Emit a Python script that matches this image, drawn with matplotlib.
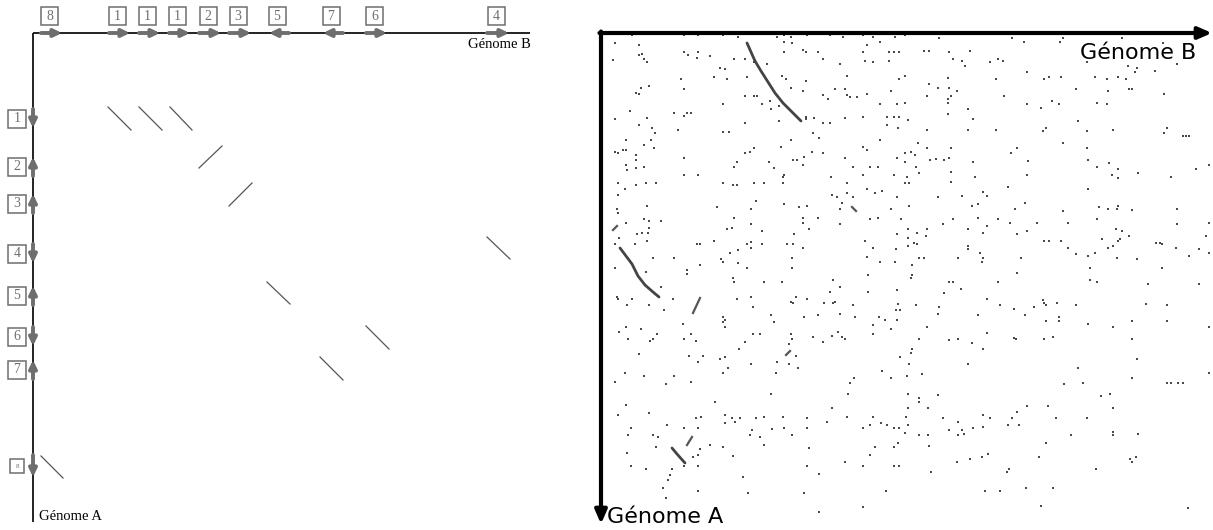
import numpy as np
import matplotlib.pyplot as plt
from matplotlib.patches import Rectangle

# ---- left: schematic of synteny blocks ----
# blocks along genome B (top axis)
b_labels = ['8', '1', '1', '1', '2', '3', '5', '7', '6', '4']
b_start = [8, 76, 106, 136, 166, 196, 236, 290, 333, 454]
b_end = [29, 97, 127, 157, 188, 218, 256, 310, 354, 476]
b_strand = [1, 1, 1, 1, 1, 1, -1, -1, 1, 1]

# blocks along genome A (left axis)
a_labels = ['1', '2', '3', '4', '5', '6', '7', '8']
a_start = [76, 124, 161, 211, 253, 294, 327, 422]
a_end = [95, 143, 180, 230, 272, 313, 346, 444]
a_strand = [1, -1, -1, 1, -1, 1, -1, 1]

# matches drawn in the schematic dot plot
match_b0 = [75, 106, 137, 166, 196, 454, 234, 333, 287, 8]
match_b1 = [98, 129, 159, 189, 219, 477, 257, 356, 310, 30]
match_a0 = [74, 74, 74, 135, 173, 204, 249, 293, 324, 423]
match_a1 = [97, 97, 97, 113, 150, 226, 271, 316, 347, 445]

# ---- right: real dot plot ----
# long diagonal runs
run1_b = [146, 150, 154, 160, 167, 174, 182, 190, 196, 200]
run1_a = [10, 19, 28, 38, 49, 60, 70, 78, 84, 88]
run2_b = [19, 25, 31, 37, 44, 52, 58]
run2_a = [215, 223, 231, 243, 252, 259, 264]
run3_b = [71, 76, 84]
run3_a = [415, 421, 430]
# short runs (b0, a0, b1, a1)
short_runs = [(12, 197, 16, 193), (92, 280, 99, 265), (185, 322, 189, 318),
              (251, 174, 255, 178), (86, 412, 91, 404)]

# isolated hits (position on B, position on A)
hits = [
    (31, 2), (83, 2), (97, 2), (122, 2), (137, 4), (176, 4), (183, 2), (190, 4), (206, 2), (229, 2),
    (242, 4), (262, 2), (272, 4), (294, 4), (304, 2), (14, 10), (38, 12), (183, 9), (191, 10), (266, 12),
    (279, 9), (12, 27), (41, 21), (38, 22), (43, 26), (46, 29), (83, 19), (87, 22), (96, 25), (97, 19),
    (109, 23), (133, 26), (144, 26), (153, 29), (166, 31), (183, 19), (202, 17), (205, 19), (217, 19),
    (222, 26), (239, 31), (262, 19), (264, 28), (272, 29), (288, 19), (293, 19), (298, 19), (288, 28),
    (119, 35), (124, 36), (113, 44), (126, 46), (146, 44), (35, 60), (38, 61), (40, 55), (48, 53),
    (80, 46), (83, 56), (185, 46), (181, 43), (190, 55), (202, 58), (205, 48), (222, 62), (227, 66),
    (234, 56), (244, 56), (246, 62), (249, 64), (256, 64), (266, 61), (246, 43), (298, 46), (304, 43),
    (290, 58), (279, 71), (296, 71), (304, 70), (29, 78), (14, 86), (38, 92), (46, 85), (51, 95),
    (54, 100), (77, 97), (73, 80), (83, 83), (86, 80), (90, 80), (122, 71), (122, 99), (128, 99),
    (144, 63), (153, 63), (156, 63), (161, 71), (169, 68), (170, 76), (178, 73), (178, 88), (144, 90),
    (205, 84), (205, 86), (213, 85), (222, 90), (229, 90), (244, 85), (262, 84), (286, 84), (293, 84),
    (298, 84), (286, 92), (297, 95), (307, 87), (25, 107), (14, 119), (17, 120), (22, 117), (25, 117),
    (35, 122), (35, 127), (35, 135), (25, 132), (26, 137), (43, 112), (43, 134), (50, 107), (53, 115),
    (83, 125), (83, 142), (97, 142), (133, 134), (136, 129), (144, 120), (149, 119), (153, 115),
    (168, 129), (173, 135), (180, 114), (183, 142), (190, 107), (192, 127), (196, 127), (202, 132),
    (203, 124), (212, 100), (218, 105), (211, 119), (222, 120), (230, 144), (244, 125), (252, 134),
    (262, 142), (262, 114), (266, 117), (269, 134), (277, 134), (279, 107), (293, 142), (296, 125),
    (304, 129), (304, 120), (17, 150), (24, 156), (35, 152), (45, 150), (55, 150), (122, 150),
    (132, 152), (136, 152), (153, 150), (163, 150), (182, 150), (182, 144), (231, 162), (236, 164),
    (246, 150), (246, 160), (252, 164), (266, 156), (274, 160), (281, 158), (296, 164), (304, 150),
    (17, 162),
    (338, 5), (411, 5), (423, 9), (459, 9), (462, 5), (521, 5), (562, 10), (323, 18), (328, 18),
    (348, 19), (369, 18), (352, 26), (361, 28), (364, 33), (389, 29), (397, 26), (402, 28), (486, 29),
    (527, 33), (536, 35), (534, 39), (554, 38), (576, 31), (347, 45), (395, 46), (426, 39), (443, 46),
    (448, 44), (460, 44), (494, 44), (506, 46), (517, 44), (525, 46), (328, 51), (337, 55), (348, 55),
    (356, 58), (326, 63), (350, 63), (347, 66), (347, 70), (403, 63), (475, 56), (507, 58), (528, 56),
    (531, 56), (563, 61), (367, 76), (426, 71), (440, 75), (451, 68), (458, 71), (496, 70), (506, 71),
    (347, 81), (372, 86), (326, 97), (367, 97), (395, 97), (442, 98), (445, 95), (477, 88), (486, 98),
    (512, 97), (563, 100), (566, 95), (582, 103), (585, 103), (588, 103), (317, 110), (310, 119),
    (314, 122), (326, 115), (350, 115), (329, 127), (335, 126), (343, 127), (348, 125), (315, 134),
    (372, 129), (410, 120), (416, 115), (427, 128), (462, 110), (486, 115), (487, 127), (496, 134),
    (508, 130), (517, 136), (537, 140), (511, 142), (517, 145), (570, 144), (595, 136), (608, 132),
    (306, 144), (318, 140), (350, 139), (374, 144), (426, 142), (308, 150), (350, 149), (382, 159),
    (386, 163), (407, 154), (487, 156), (337, 164), (361, 163),
    (16, 176), (17, 180), (46, 173), (116, 174), (155, 168), (183, 171), (198, 174), (206, 173),
    (239, 176), (241, 170), (43, 186), (48, 188), (60, 188), (25, 190), (48, 195), (47, 200), (41, 200),
    (36, 201), (46, 208), (18, 205), (14, 211), (34, 211), (133, 185), (126, 196), (131, 195),
    (150, 176), (150, 191), (161, 198), (202, 185), (202, 190), (217, 185), (239, 191), (208, 196),
    (193, 201), (269, 186), (277, 185), (290, 176), (300, 186), (307, 196), (296, 201), (307, 205),
    (264, 208), (272, 215), (295, 216), (307, 213), (113, 208), (96, 211), (99, 211), (150, 209),
    (146, 211), (150, 215), (161, 211), (186, 211), (192, 211), (202, 215), (137, 217), (129, 220),
    (120, 226), (122, 229), (137, 230), (146, 235), (191, 225), (191, 235), (52, 225), (73, 225),
    (14, 235), (45, 239), (86, 237), (86, 241), (99, 232), (132, 245), (133, 249), (163, 249),
    (181, 249), (232, 247), (239, 254), (229, 259), (266, 224), (279, 229), (294, 229), (267, 242),
    (267, 259), (296, 257), (16, 264), (17, 266), (31, 266), (60, 254), (72, 266), (26, 272), (48, 272),
    (63, 277), (136, 266), (150, 264), (152, 274), (190, 269), (192, 270), (195, 264), (206, 266),
    (223, 270), (232, 270), (234, 269), (252, 272), (295, 277), (299, 277), (297, 271), (203, 284),
    (217, 282), (239, 281), (254, 284), (278, 284), (284, 287), (296, 287), (272, 292), (272, 301),
    (290, 296), (170, 282), (173, 289), (122, 284), (124, 287), (122, 289), (124, 294), (82, 291),
    (25, 294), (40, 296), (18, 299), (27, 306), (49, 308), (52, 306), (56, 301), (83, 306), (90, 301),
    (95, 308), (152, 301), (159, 301), (190, 301), (191, 306), (188, 311), (212, 304), (222, 309),
    (231, 303), (237, 299), (241, 304), (244, 306), (144, 309), (138, 316), (38, 321), (88, 323),
    (97, 329), (102, 323), (119, 326), (124, 324), (176, 329), (188, 331), (195, 323), (197, 335),
    (150, 331), (127, 335), (122, 340), (175, 340), (24, 340), (43, 343), (73, 343), (14, 349),
    (65, 351), (90, 349), (249, 350), (253, 345), (281, 338), (290, 345), (299, 324), (306, 343),
    (170, 361), (247, 361),
    (307, 361), (25, 372), (17, 382), (48, 380), (114, 369), (231, 375), (307, 375), (30, 395),
    (27, 402), (52, 402), (57, 404), (66, 392), (83, 395), (97, 395), (95, 385), (100, 384), (124, 382),
    (124, 390), (131, 385), (134, 389), (139, 385), (155, 385), (163, 384), (182, 384), (206, 385),
    (226, 389), (246, 384), (151, 397), (149, 402), (159, 404), (171, 396), (183, 395), (191, 402),
    (206, 395), (262, 395), (269, 392), (272, 384), (280, 390), (286, 392), (293, 395), (298, 395),
    (304, 400), (305, 384), (307, 392), (55, 414), (26, 420), (30, 433), (45, 436), (83, 433), (97, 433),
    (92, 424), (97, 422), (99, 416), (109, 412), (122, 414), (132, 423), (163, 412), (208, 415),
    (206, 433), (244, 429), (262, 433), (269, 422), (274, 414), (293, 414), (297, 410), (293, 433),
    (298, 433), (142, 444), (218, 441), (97, 458), (147, 460), (203, 460), (285, 458), (218, 479),
    (262, 474), (71, 436), (69, 442), (67, 447), (62, 455), (65, 465),
    (308, 173), (371, 173), (377, 171), (424, 170), (414, 176), (462, 178), (498, 174), (507, 176),
    (516, 176), (517, 173), (531, 177), (576, 176), (342, 191), (352, 186), (377, 185), (397, 186),
    (409, 190), (436, 190), (467, 190), (496, 186), (576, 191), (608, 190), (316, 200), (326, 196),
    (325, 203), (313, 210), (316, 211), (367, 196), (382, 200), (386, 193), (416, 201), (426, 198),
    (443, 208), (448, 208), (460, 208), (467, 215), (475, 221), (487, 223), (494, 220), (501, 206),
    (507, 215), (512, 213), (515, 196), (521, 198), (517, 208), (519, 206), (528, 203), (516, 225),
    (536, 226), (555, 210), (559, 210), (561, 211), (575, 215), (588, 223), (598, 216), (605, 203),
    (608, 220), (367, 213), (367, 216), (379, 220), (382, 225), (381, 229), (357, 225), (318, 225),
    (323, 225), (311, 232), (311, 242), (310, 245), (348, 249), (352, 249), (360, 256), (343, 260),
    (397, 249), (416, 240), (420, 225), (489, 235), (489, 247), (496, 249), (561, 235), (547, 251),
    (598, 251), (315, 272), (338, 274), (337, 281), (386, 266), (399, 272), (413, 276), (433, 274),
    (442, 267), (443, 270), (445, 272), (456, 270), (475, 272), (545, 271), (566, 272), (377, 282),
    (424, 282), (445, 288), (458, 284), (458, 288), (487, 291), (512, 294), (531, 288), (566, 288),
    (608, 294), (326, 294), (318, 306), (348, 307), (357, 306), (371, 310), (386, 300), (413, 305),
    (415, 306), (443, 306), (452, 304), (531, 306), (311, 316), (310, 320), (382, 316), (308, 331),
    (367, 331), (321, 341), (477, 335), (536, 326), (608, 340), (463, 351), (482, 350), (531, 345),
    (566, 350), (570, 350), (577, 350), (582, 350),
    (318, 365), (318, 369), (337, 362), (327, 375), (318, 402), (327, 402), (328, 413), (342, 385),
    (357, 389), (348, 397), (361, 397), (357, 402), (363, 401), (372, 395), (382, 382), (382, 394),
    (389, 385), (407, 392), (411, 385), (416, 379), (418, 392), (426, 373), (447, 373), (455, 385),
    (470, 402), (486, 385), (500, 363), (509, 361), (512, 375), (512, 399), (512, 402), (537, 401),
    (445, 410), (438, 424), (356, 429), (369, 426), (381, 424), (387, 421), (330, 439), (408, 436),
    (406, 439), (495, 436), (529, 426), (531, 429), (535, 424), (384, 458), (399, 458), (425, 455),
    (452, 455), (440, 473), (587, 475),
]

W, H = 1213, 530
fig = plt.figure(figsize=(W / 100, H / 100), dpi=100)

serif = 'Liberation Serif'
grey = '#6e6e6e'

# left panel
ax = fig.add_axes([33 / W, 0, 497 / W, 497 / H])
ax.set_xlim(0, 497)
ax.set_ylim(497, 0)
ax.axis('off')

ax.plot([0, 497], [0, 0], color='#111111', lw=1.3, clip_on=False, solid_capstyle='butt')
ax.plot([0, 0], [0, 489], color='#111111', lw=1.3, clip_on=False, solid_capstyle='butt')

arrow_kw = dict(arrowstyle='-|>,head_length=0.45,head_width=0.22', lw=2.8, color=grey,
                shrinkA=0, shrinkB=0)

for lab, s, e, st in zip(b_labels, b_start, b_end, b_strand):
    tail, tip = (s, e) if st > 0 else (e, s)
    ax.annotate('', xy=(tip, 0), xytext=(tail, 0), arrowprops=arrow_kw, annotation_clip=False)
    cx = (s + e) / 2 - 2
    ax.add_patch(Rectangle((cx - 8.5, -26), 17, 18, fill=False, ec=grey, lw=1.1, clip_on=False))
    ax.text(cx, -17, lab, ha='center', va='center', fontsize=10, family=serif, color=grey,
            clip_on=False)

for i, (lab, s, e, st) in enumerate(zip(a_labels, a_start, a_end, a_strand)):
    tail, tip = (s, e) if st > 0 else (e, s)
    ax.annotate('', xy=(0, tip), xytext=(0, tail), arrowprops=arrow_kw, annotation_clip=False)
    cy = (s + e) / 2
    if i == len(a_labels) - 1:
        bw, fs = 14, 5
    else:
        bw, fs = 18, 10
    ax.add_patch(Rectangle((-16 - bw / 2, cy - bw / 2), bw, bw, fill=False, ec=grey, lw=1.1,
                           clip_on=False))
    ax.text(-16, cy, lab, ha='center', va='center', fontsize=fs, family=serif, color=grey,
            clip_on=False)

for b0, b1, a0, a1 in zip(match_b0, match_b1, match_a0, match_a1):
    ax.plot([b0, b1], [a0, a1], color='#555555', lw=0.9)

ax.text(498, 11, 'Génome B', ha='right', va='center', fontsize=10.5, family=serif, color='black')
ax.text(6, 484, 'Génome A', ha='left', va='center', fontsize=10.5, family=serif, color='black')

# right panel
ax2 = fig.add_axes([601 / W, 0, 612 / W, 497 / H])
ax2.set_xlim(0, 612)
ax2.set_ylim(497, 0)
ax2.axis('off')

hb = [h[0] for h in hits]
ha_ = [h[1] for h in hits]
ax2.scatter(hb, ha_, s=4, marker='s', color='#4a4a4a', linewidths=0)

for rb, ra in [(run1_b, run1_a), (run2_b, run2_a), (run3_b, run3_a)]:
    ax2.plot(rb, ra, color='#444444', lw=2, solid_capstyle='round')
for b0, a0, b1, a1 in short_runs:
    ax2.plot([b0, b1], [a0, a1], color='#555555', lw=1.6)

big_arrow = dict(arrowstyle='-|>,head_length=0.8,head_width=0.35', lw=3, color='black',
                 shrinkA=0, shrinkB=0)
ax2.annotate('', xy=(611, 0), xytext=(-1.5, 0), arrowprops=big_arrow, annotation_clip=False)
ax2.annotate('', xy=(0, 491), xytext=(0, -1.5), arrowprops=big_arrow, annotation_clip=False)

ax2.text(595, 20, 'Génome B', ha='right', va='center', fontsize=16, family='DejaVu Sans')
ax2.text(6, 484, 'Génome A', ha='left', va='center', fontsize=16, family='DejaVu Sans')

fig.savefig('out.png', dpi=100)
